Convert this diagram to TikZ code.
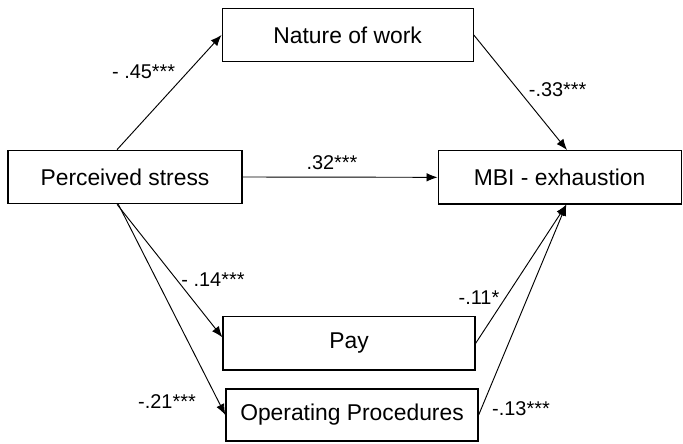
\documentclass[tikz,border=0pt]{standalone}
\usepackage{fontspec}
\setmainfont{Liberation Sans}
\usetikzlibrary{arrows.meta, positioning}

\begin{document}
\begin{tikzpicture}[
    box/.style={rectangle, draw=black, line width=1.1pt, fill=white, inner sep=0pt,
                minimum height=1.6cm, text centered, font=\fontsize{19.5}{23}\selectfont},
    arr/.style={-{Latex[length=3.3mm,width=2.6mm]}, line width=0.8pt},
    coef/.style={font=\fontsize{17}{20}\selectfont, inner sep=1pt}
]
    \useasboundingbox (0,0) rectangle (20.49,13.32);
    \node[box, minimum width=7.02cm] (stress) at (3.75,8.01)   {Perceived stress};
    \node[box, minimum width=7.53cm] (nature) at (10.43,12.27) {Nature of work};
    \node[box, minimum width=7.29cm] (mbi)    at (16.79,8.00)  {MBI - exhaustion};
    \node[box, minimum width=7.56cm] (pay)    at (10.47,3.02)  {Pay};
    \node[box, minimum width=7.56cm, minimum height=1.56cm] (proc) at (10.56,0.87) {Operating Procedures};
    \draw[arr] ([xshift=-0.24cm]stress.north) -- (nature.west);
    \draw[arr] (nature.east) -- ([xshift=0.22cm]mbi.north);
    \draw[arr] (stress.east) -- (mbi.west);
    \draw[arr] ([xshift=-0.24cm]stress.south) -- ([yshift=0.18cm]pay.west);
    \draw[arr] ([xshift=-0.2cm]stress.south) -- (proc.west);
    \draw[arr] (pay.east)  -- ([xshift=0.2cm]mbi.south);
    \draw[arr] (proc.east) -- ([xshift=0.2cm]mbi.south);
    \node[coef] (c45) at (4.31,11.16)  {- .45***};
    \node[coef] (c32) at (9.96,8.43)   {.32***};
    \node[coef] (c33) at (16.73,10.62) {-.33***};
    \node[coef] (c14) at (6.39,4.92)   {- .14***};
    \node[coef] (c11) at (14.37,4.38)  {-.11*};
    \node[coef] (c21) at (5.01,1.26)   {-.21***};
    \node[coef] (c13) at (15.63,1.05)  {-.13***};
\end{tikzpicture}
\end{document}
